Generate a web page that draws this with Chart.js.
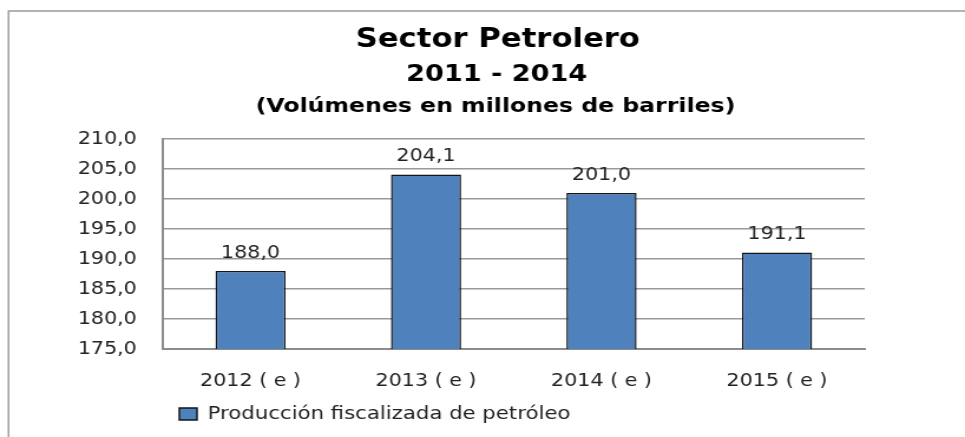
<!DOCTYPE html>
<html>
<head>
    <meta charset="utf-8" />
    <title>Sector Petrolero 2011 - 2014</title>
    <script src="https://cdn.jsdelivr.net/npm/chart.js"></script>
    <style>
        html, body { margin: 0; padding: 0; background: #ffffff; }
    </style>
</head>
<body>
<!-- the original picture is stretched sideways, so the canvas is drawn
     narrower and widened by its inline style -->
<canvas id="petroleoChart" width="818" height="437" style="width:965px;height:437px;display:block;"></canvas>
<script>
    // Data
    const years = ['2012 ( e )', '2013 ( e )', '2014 ( e )', '2015 ( e )'];
    const production = [188.0, 204.1, 201.0, 191.1];
    const seriesName = 'Producción fiscalizada de petróleo';
    const titleLines = ['Sector Petrolero', '2011 - 2014', '(Volúmenes en millones de barriles)'];
    const yMin = 175, yMax = 210, yStep = 5;

    const fmt = v => v.toFixed(1).replace('.', ',');
    const FONT = '"DejaVu Sans", Verdana, sans-serif';

    // frame + the three title lines
    const framePlugin = {
        id: 'frame',
        beforeDraw(chart) {
            const ctx = chart.ctx;
            ctx.save();
            ctx.strokeStyle = '#9a9a9a';
            ctx.lineWidth = 1.4;
            ctx.beginPath();
            ctx.moveTo(7.2, 437);
            ctx.lineTo(7.2, 11);
            ctx.lineTo(chart.width, 11);
            ctx.stroke();

            ctx.fillStyle = '#000';
            ctx.textAlign = 'center';
            ctx.textBaseline = 'middle';
            ctx.font = 'bold 26px ' + FONT;
            ctx.fillText(titleLines[0], 422, 40);
            ctx.font = 'bold 23px ' + FONT;
            ctx.fillText(titleLines[1], 421, 75);
            ctx.font = 'bold 20px ' + FONT;
            ctx.fillText(titleLines[2], 420, 107);
            ctx.restore();
        }
    };

    // value labels above each bar
    const valueLabels = {
        id: 'valueLabels',
        afterDatasetsDraw(chart) {
            const ctx = chart.ctx;
            const meta = chart.getDatasetMeta(0);
            ctx.save();
            ctx.fillStyle = '#222';
            ctx.font = '17.5px ' + FONT;
            ctx.textAlign = 'center';
            ctx.textBaseline = 'middle';
            meta.data.forEach((bar, i) => {
                ctx.fillText(fmt(production[i]), bar.x, bar.y - 18);
            });
            ctx.restore();
        }
    };

    // move the legend to where it sits in the original
    const legendShift = {
        id: 'legendShift',
        afterLayout(chart) {
            const lg = chart.legend;
            const dx = 142 - lg.left;
            lg.left += dx;
            lg.right += dx;
        }
    };

    const ctx = document.getElementById('petroleoChart').getContext('2d');
    new Chart(ctx, {
        type: 'bar',
        data: {
            labels: years,
            datasets: [{
                label: seriesName,
                data: production,
                backgroundColor: '#4F81BD',
                borderColor: '#151515',
                borderWidth: 1.5,
                categoryPercentage: 1.0,
                barPercentage: 0.4
            }]
        },
        options: {
            responsive: false,
            animation: false,
            layout: { padding: { top: 139, right: 85, bottom: 4, left: 0 } },
            plugins: {
                title: { display: false },
                tooltip: { enabled: false },
                legend: {
                    display: true,
                    position: 'bottom',
                    align: 'start',
                    labels: {
                        boxWidth: 15,
                        boxHeight: 12,
                        padding: 10,
                        color: '#222',
                        font: { family: FONT, size: 18 }
                    }
                }
            },
            scales: {
                x: {
                    grid: { display: false, drawTicks: false },
                    border: { display: true, color: '#8c8c8c', width: 2 },
                    ticks: {
                        color: '#222',
                        padding: 22,
                        font: { family: FONT, size: 17.5 }
                    },
                    afterFit(scale) { scale.height = 46; }
                },
                y: {
                    min: yMin,
                    max: yMax,
                    grid: { color: '#9a9a9a', lineWidth: 1.5, drawTicks: false },
                    border: { display: true, color: '#8c8c8c', width: 2 },
                    ticks: {
                        stepSize: yStep,
                        color: '#222',
                        padding: 22,
                        font: { family: FONT, size: 17.5 },
                        callback: v => fmt(v)
                    },
                    afterFit(scale) { scale.width = 138; }
                }
            }
        },
        plugins: [framePlugin, valueLabels, legendShift]
    });
</script>
</body>
</html>
